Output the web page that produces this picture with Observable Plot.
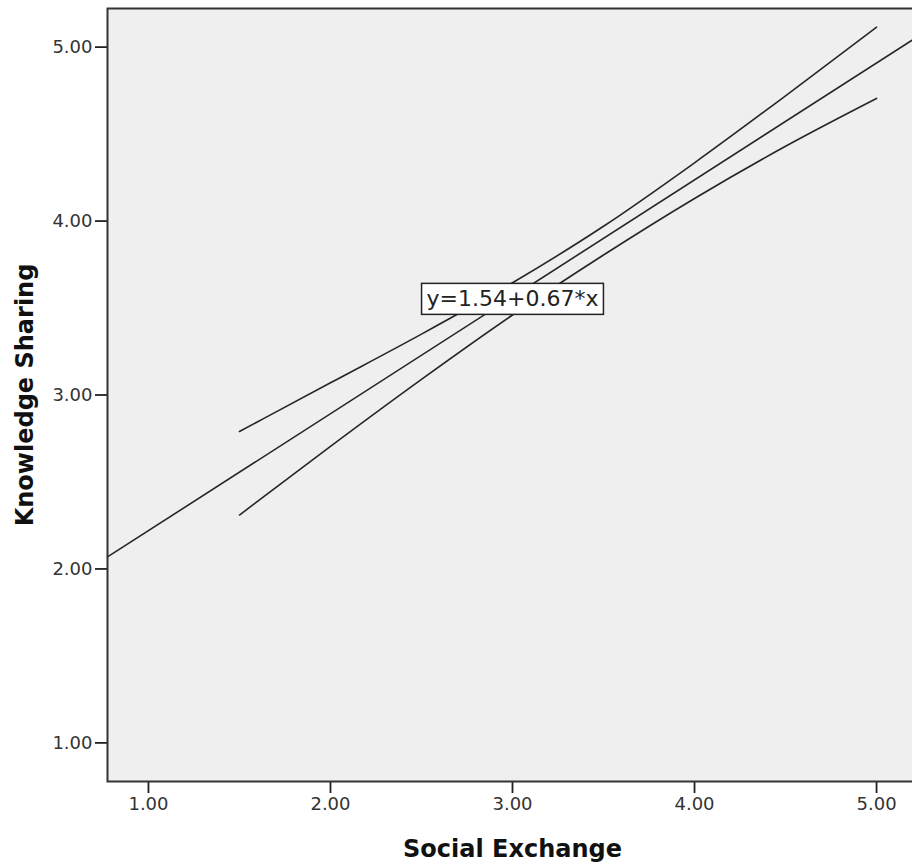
<!DOCTYPE html>
<html>
<head>
<meta charset="utf-8">
<script src="https://cdn.jsdelivr.net/npm/d3@7"></script>
<script src="https://cdn.jsdelivr.net/npm/@observablehq/plot@0.6"></script>
<style>
  html, body { margin: 0; padding: 0; background: #fff; overflow: hidden; }
  #chart { width: 912px; height: 864px; overflow: hidden; }
  #chart svg { max-width: none !important; display: block; }
</style>
</head>
<body>
<div id="chart"></div>
<script>
// Fit line (drawn across the full x range)
const fitX = [0.775, 5.225];
const fitY = [2.069, 5.06];

// Confidence band for the mean
const bandX = [1.5, 2.0, 2.5, 3.0, 3.5, 4.0, 4.5, 5.0];
const upperY = [2.79, 3.07, 3.35, 3.645, 3.97, 4.335, 4.72, 5.115];
const lowerY = [2.31, 2.705, 3.09, 3.46, 3.805, 4.13, 4.43, 4.705];

// Equation label
const eqText = ["y=1.54+0.67*x"];
const eqX = [3.0];
const eqY = [3.55];

const xTicks = [1, 2, 3, 4, 5];
const yTicks = [1, 2, 3, 4, 5];
const xTitle = "Social Exchange";
const yTitle = "Knowledge Sharing";

const fit = fitX.map((x, i) => ({x, y: fitY[i]}));
const upper = bandX.map((x, i) => ({x, y: upperY[i]}));
const lower = bandX.map((x, i) => ({x, y: lowerY[i]}));
const eq = eqText.map((t, i) => ({t, x: eqX[i], y: eqY[i]}));

const lineStyle = {x: "x", y: "y", stroke: "#262626", strokeWidth: 1.6, curve: "monotone-x"};

const plot = Plot.plot({
  width: 920,
  height: 864,
  marginLeft: 107,
  marginTop: 8,
  marginBottom: 83,
  marginRight: 3,
  style: {fontFamily: "DejaVu Sans", fontSize: "18px", color: "#333", background: "#fff", maxWidth: "none"},
  x: {domain: [0.775, 5.225], label: null},
  y: {domain: [0.778, 5.222], label: null},
  marks: [
    Plot.frame({fill: "#efefef", stroke: "none"}),
    Plot.axisX({ticks: xTicks, tickFormat: d3.format(".2f"), tickSize: 12, tickPadding: 4, stroke: "#222", strokeWidth: 1.8, fill: "#333", label: null}),
    Plot.axisY({ticks: yTicks, tickFormat: d3.format(".2f"), tickSize: 12, tickPadding: 3, stroke: "#222", strokeWidth: 1.8, fill: "#333", label: null}),
    Plot.line(fit, lineStyle),
    Plot.line(upper, lineStyle),
    Plot.line(lower, lineStyle),
    Plot.text(eq, {x: "x", y: "y", text: "t", fontSize: 22, fill: "#222"}),
    Plot.frame({stroke: "#333", strokeWidth: 2}),
    Plot.text([xTitle], {frameAnchor: "bottom", dy: 68, text: d => d, fontWeight: "bold", fontSize: 24, fill: "#111", lineAnchor: "middle"}),
    Plot.text([yTitle], {frameAnchor: "left", dx: -82, rotate: -90, text: d => d, fontWeight: "bold", fontSize: 24, fill: "#111", lineAnchor: "middle", textAnchor: "middle"})
  ]
});

document.getElementById("chart").appendChild(plot);

// Box behind the equation label, sized from the rendered text
plot.querySelectorAll("text").forEach(t => {
  if (t.textContent !== eqText[0]) return;
  const b = t.getBBox();
  const padX = 5, padY = 4;
  const r = document.createElementNS("http://www.w3.org/2000/svg", "rect");
  r.setAttribute("x", b.x - padX);
  r.setAttribute("y", b.y - padY + 1);
  r.setAttribute("width", b.width + 2 * padX);
  r.setAttribute("height", b.height + 2 * padY - 2);
  r.setAttribute("fill", "#fff");
  r.setAttribute("stroke", "#222");
  r.setAttribute("stroke-width", "1.5");
  const tr = t.getAttribute("transform");
  if (tr) r.setAttribute("transform", tr);
  t.parentNode.insertBefore(r, t);
});
</script>
</body>
</html>
